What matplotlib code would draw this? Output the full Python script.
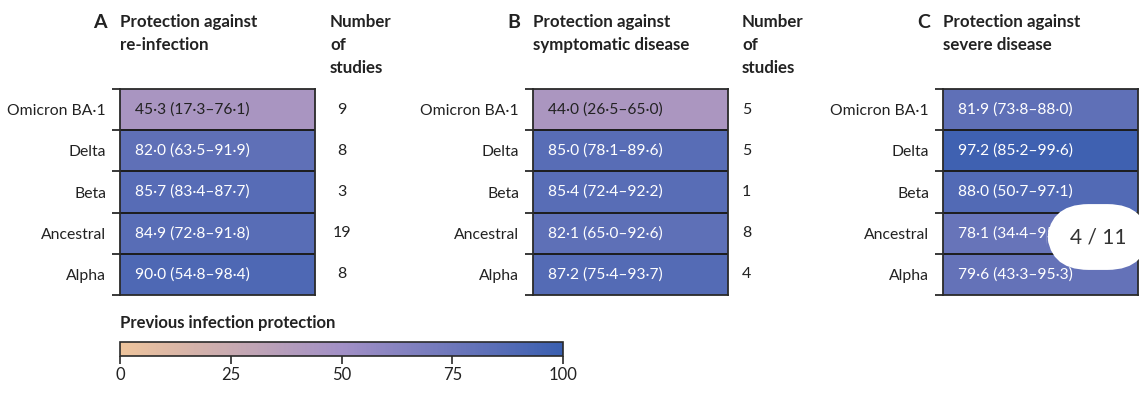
import numpy as np
import matplotlib
matplotlib.use("Agg")
import matplotlib.pyplot as plt
from matplotlib.colors import LinearSegmentedColormap, Normalize
from matplotlib.colorbar import ColorbarBase

plt.rcParams['font.family'] = ['Lato', 'DejaVu Sans']

# Varianten (Zeilen, von oben nach unten)
variants = ["Omicron BA·1", "Delta", "Beta", "Ancestral", "Alpha"]

# A: Schutz gegen Reinfektion
reinf_mean = [45.3, 82.0, 85.7, 84.9, 90.0]
reinf_low = [17.3, 63.5, 83.4, 72.8, 54.8]
reinf_high = [76.1, 91.9, 87.7, 91.8, 98.4]
reinf_n = [9, 8, 3, 19, 8]

# B: Schutz gegen symptomatische Erkrankung
sympt_mean = [44.0, 85.0, 85.4, 82.1, 87.2]
sympt_low = [26.5, 78.1, 72.4, 65.0, 75.4]
sympt_high = [65.0, 89.6, 92.2, 92.6, 93.7]
sympt_n = [5, 5, 1, 8, 4]

# C: Schutz gegen schwere Erkrankung
severe_mean = [81.9, 97.2, 88.0, 78.1, 79.6]
severe_low = [73.8, 85.2, 50.7, 34.4, 43.3]
severe_high = [88.0, 99.6, 97.1, 95.9, 95.3]

cbar_ticks = [0, 25, 50, 75, 100]

W, H = 1147, 395
cmap = LinearSegmentedColormap.from_list(
    "prot", ["#EEC49C", "#A290C6", "#3A5FB0"])
norm = Normalize(0, 100)
TXT = "#222222"


def fmt(v):
    return f"{v:.1f}".replace(".", "·")


def px_axes(fig, x0, y0, x1, y1):
    # Pixelkoordinaten (oben links) in Figure-Koordinaten umrechnen
    return fig.add_axes([x0 / W, 1 - y1 / H, (x1 - x0) / W, (y1 - y0) / H])


def heat_panel(fig, x0, letter, title_lines, mean, low, high,
               n=None, n_x=None, n_ha="center"):
    ax = px_axes(fig, x0, 89, x0 + 195, 295)
    vals = np.array(mean)[:, None]
    ax.imshow(vals, cmap=cmap, norm=norm, aspect="auto",
              extent=(0, 1, len(mean), 0))
    ax.hlines(range(1, len(mean)), 0, 1, color="#1c1c1c", lw=1.4)
    for s in ax.spines.values():
        s.set_color("#2a2a2a")
        s.set_linewidth(1.3)
    ax.set_xticks([])
    ax.set_yticks(range(len(mean) + 1))
    ax.set_yticklabels([])
    ax.set_yticks(np.arange(len(mean)) + 0.5, minor=True)
    ax.set_yticklabels(variants, minor=True)
    ax.tick_params(axis="y", which="major", length=6, width=1.3,
                   color="#2a2a2a", direction="out")
    ax.tick_params(axis="y", which="minor", length=0, pad=10,
                   labelsize=11.3, labelcolor=TXT)
    ax.set_xlim(0, 1)
    ax.set_ylim(len(mean), 0)

    for i, (m, lo, hi) in enumerate(zip(mean, low, high)):
        col = TXT if m < 60 else "white"
        ax.text(15 / 195, i + 0.5, f"{fmt(m)} ({fmt(lo)}–{fmt(hi)})",
                ha="left", va="center", fontsize=11.2, color=col)

    if n is not None:
        for i, k in enumerate(n):
            ax.text((n_x - x0) / 195, i + 0.5, str(k), ha=n_ha,
                    va="center", fontsize=11.5, color=TXT)
        hx = n_x - 12 if n_ha == "center" else n_x
        for j, line in enumerate(["Number", "of", "studies"]):
            fig.text(hx / W, 1 - (22 + 23 * j) / H, line, ha="left",
                     va="center", fontsize=12.2, fontweight="bold", color=TXT)

    fig.text((x0 - 13) / W, 1 - 22 / H, letter, ha="right", va="center",
             fontsize=14, fontweight="bold", color=TXT)
    for j, line in enumerate(title_lines):
        fig.text(x0 / W, 1 - (22 + 23 * j) / H, line, ha="left",
                 va="center", fontsize=12.2, fontweight="bold", color=TXT)
    return ax


fig = plt.figure(figsize=(W / 100, H / 100), dpi=100)

heat_panel(fig, 120, "A", ["Protection against", "re-infection"],
           reinf_mean, reinf_low, reinf_high, reinf_n, 342, "center")
heat_panel(fig, 533, "B", ["Protection against", "symptomatic disease"],
           sympt_mean, sympt_low, sympt_high, sympt_n, 742, "left")
heat_panel(fig, 943, "C", ["Protection against", "severe disease"],
           severe_mean, severe_low, severe_high)

# Farbskala
cax = px_axes(fig, 120, 342, 563, 356)
cb = ColorbarBase(cax, cmap=cmap, norm=norm, orientation="horizontal",
                  ticks=cbar_ticks)
cb.outline.set_color("#2a2a2a")
cb.outline.set_linewidth(1.2)
cax.tick_params(length=6, width=1.2, color="#2a2a2a", labelsize=12,
                labelcolor=TXT, pad=2)
fig.text(120 / W, 1 - 323 / H, "Previous infection protection", ha="left",
         va="center", fontsize=12, fontweight="bold", color=TXT)

# Seitenanzeige (Overlay aus dem Screenshot)
fig.text(1098 / W, 1 - 237 / H, "4 / 11", ha="center", va="center",
         fontsize=15, color="#333333",
         bbox=dict(boxstyle="round,pad=1.1,rounding_size=2.0",
                   fc="white", ec="none"))

fig.savefig("out.png", dpi=100)
